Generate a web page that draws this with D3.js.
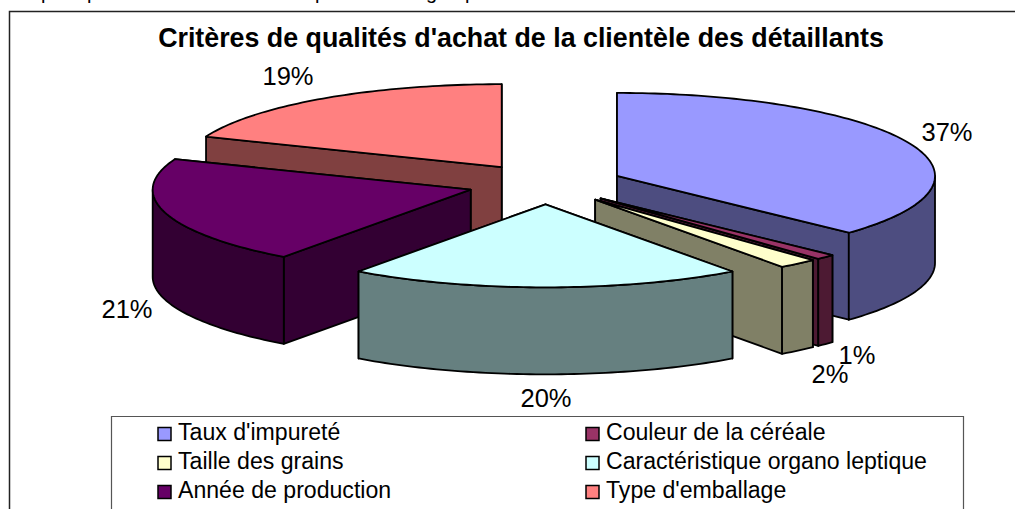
<!DOCTYPE html>
<html lang="fr">
<head>
<meta charset="utf-8">
<style>
html,body{margin:0;padding:0;background:#fff;overflow:hidden}
svg{display:block}
text{font-family:"Liberation Sans",Arial,sans-serif;fill:#000}
</style>
<script src="https://cdn.jsdelivr.net/npm/d3@7/dist/d3.min.js"></script>
</head>
<body>
<script>
// ---- data ----
const categories = ["Taux d'impureté","Couleur de la céréale","Taille des grains","Caractéristique organo leptique","Année de production","Type d'emballage"];
const values = [37,1,2,20,21,19];
const colors = ["#9999FF","#993366","#FFFFCC","#CCFFFF","#660066","#FF8080"];
const title = "Critères de qualités d'achat de la clientèle des détaillants";
const clippedGlyphs = ["p","p","p","g","p"];

// ---- layout ----
const W=1015,H=509;
const cx=545.5,cy=184,rx=318,ry=83,depth=87,explode=0.245;
const labelPos=[[947,141],[857,364],[830,383],[546,407],[127,318],[288,85]];
const drawOrder=[0,1,2,5,4,3];
const glyphX=[41,87,315,426,465];

const svg=d3.select("body").append("svg").attr("width",W).attr("height",H);

// clipped line of body text above the chart
svg.append("g").selectAll("text").data(clippedGlyphs).join("text")
  .attr("x",(d,i)=>glyphX[i]).attr("y",-1.5).attr("font-size",20).text(d=>d);

// chart frame (open on the right and at the bottom)
svg.append("path").attr("d",d3.line()([[9.5,509],[9.5,11.5],[1015,11.5]]))
  .attr("fill","none").attr("stroke","#222").attr("stroke-width",1.5);

svg.append("text").attr("x",521).attr("y",47).attr("text-anchor","middle")
  .attr("font-size",26.8).attr("font-weight","bold").text(title);

const slices=d3.pie().sort(null).value(d=>d).startAngle(0).endAngle(2*Math.PI)(values);

const line=d3.line();
const dark=c=>{const r=d3.rgb(c);return d3.rgb(r.r/2,r.g/2,r.b/2).formatHex();};

function sliceGeom(s){
  const mid=(s.startAngle+s.endAngle)/2;
  const ax=cx+explode*rx*Math.sin(mid), ay=cy-explode*ry*Math.cos(mid);
  const pt=(a,dz=0)=>[ax+rx*Math.sin(a), ay-ry*Math.cos(a)+dz];
  return {ax,ay,pt};
}
function arcAngles(a0,a1){
  const n=Math.max(2,Math.ceil((a1-a0)/0.02));
  return d3.range(n+1).map(i=>a0+(a1-a0)*i/n);
}

const pieG=svg.append("g").attr("stroke","#000").attr("stroke-width",1.8).attr("stroke-linejoin","round");
drawOrder.forEach(i=>{
  const s=slices[i], g=sliceGeom(s), wall=dark(colors[i]);
  const group=pieG.append("g");
  // cut planes, the one further back first
  const planes=[s.startAngle,s.endAngle].sort((a,b)=>g.pt(a)[1]-g.pt(b)[1]);
  planes.forEach(a=>{
    group.append("path").attr("fill",wall).attr("d",line([[g.ax,g.ay],g.pt(a),g.pt(a,depth),[g.ax,g.ay+depth]])+"Z");
  });
  // outer wall, front half only
  const a0=Math.max(s.startAngle,Math.PI/2), a1=Math.min(s.endAngle,3*Math.PI/2);
  if(a1>a0){
    const angs=arcAngles(a0,a1);
    const pts=angs.map(a=>g.pt(a)).concat(angs.slice().reverse().map(a=>g.pt(a,depth)));
    group.append("path").attr("fill",wall).attr("d",line(pts)+"Z");
  }
  // top face
  const top=[[g.ax,g.ay]].concat(arcAngles(s.startAngle,s.endAngle).map(a=>g.pt(a)));
  group.append("path").attr("fill",colors[i]).attr("d",line(top)+"Z");
});

// percent labels
svg.append("g").selectAll("text").data(values).join("text")
  .attr("x",(d,i)=>labelPos[i][0]).attr("y",(d,i)=>labelPos[i][1])
  .attr("text-anchor","middle").attr("font-size",25.5).text(d=>d+"%");

// legend
svg.append("path").attr("d",d3.line()([[111.5,509],[111.5,416.5],[963.5,416.5],[963.5,509]]))
  .attr("fill","none").attr("stroke","#555").attr("stroke-width",1.2);
const legX=d3.scalePoint().domain([0,1]).range([158,586]);
const legY=d3.scalePoint().domain([0,1,2]).range([434,492]);
const leg=svg.append("g").selectAll("g").data(categories).join("g")
  .attr("transform",(d,i)=>`translate(${legX(i%2)},${legY(Math.floor(i/2))})`);
leg.append("rect").attr("x",0).attr("y",-6.5).attr("width",13).attr("height",13)
  .attr("fill",(d,i)=>colors[i]).attr("stroke","#000").attr("stroke-width",1.5);
leg.append("text").attr("x",20).attr("y",5.5).attr("font-size",23.1).text(d=>d);
</script>
</body>
</html>
